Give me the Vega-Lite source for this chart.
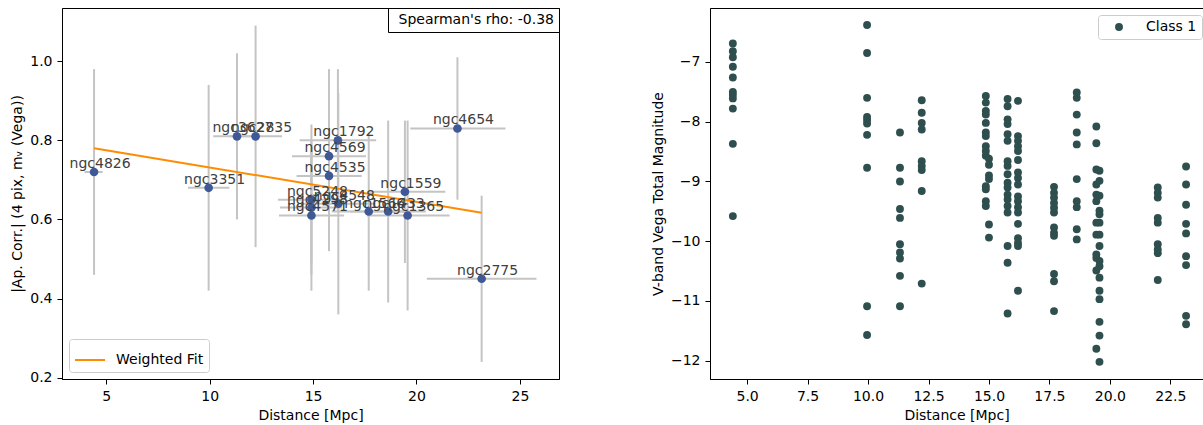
{
  "$schema": "https://vega.github.io/schema/vega-lite/v6.json",
  "padding": {"left": 10, "top": 7, "right": 0, "bottom": 0},
  "spacing": 151,
  "bounds": "flush",
  "datasets": {
    "gal": [
      {"name": "ngc4826", "dist": 4.41, "val": 0.72, "xlo": 3.95, "xhi": 4.83, "ylo": 0.46, "yhi": 0.98},
      {"name": "ngc3351", "dist": 9.95, "val": 0.68, "xlo": 8.95, "xhi": 10.95, "ylo": 0.42, "yhi": 0.94},
      {"name": "ngc3627", "dist": 11.32, "val": 0.81, "xlo": 10.17, "xhi": 12.47, "ylo": 0.60, "yhi": 1.02},
      {"name": "ngc2835", "dist": 12.22, "val": 0.81, "xlo": 10.95, "xhi": 13.5, "ylo": 0.53, "yhi": 1.09},
      {"name": "ngc5248", "dist": 14.92, "val": 0.65, "xlo": 13.3, "xhi": 16.5, "ylo": 0.46, "yhi": 0.84},
      {"name": "ngc4298", "dist": 14.92, "val": 0.63, "xlo": 13.4, "xhi": 16.4, "ylo": 0.49, "yhi": 0.77},
      {"name": "ngc4571", "dist": 14.92, "val": 0.61, "xlo": 13.35, "xhi": 16.5, "ylo": 0.42, "yhi": 0.80},
      {"name": "ngc4569", "dist": 15.77, "val": 0.76, "xlo": 13.98, "xhi": 17.56, "ylo": 0.54, "yhi": 0.98},
      {"name": "ngc4535", "dist": 15.77, "val": 0.71, "xlo": 14.2, "xhi": 17.35, "ylo": 0.52, "yhi": 0.90},
      {"name": "ngc1792", "dist": 16.2, "val": 0.80, "xlo": 14.35, "xhi": 18.05, "ylo": 0.62, "yhi": 0.98},
      {"name": "ngc4548", "dist": 16.22, "val": 0.64, "xlo": 14.5, "xhi": 17.95, "ylo": 0.36, "yhi": 0.92},
      {"name": "ngc1566", "dist": 17.69, "val": 0.62, "xlo": 15.9, "xhi": 19.5, "ylo": 0.42, "yhi": 0.82},
      {"name": "ngc1433", "dist": 18.63, "val": 0.62, "xlo": 16.8, "xhi": 20.45, "ylo": 0.39, "yhi": 0.85},
      {"name": "ngc1559", "dist": 19.44, "val": 0.67, "xlo": 17.7, "xhi": 21.4, "ylo": 0.49, "yhi": 0.85},
      {"name": "ngc1365", "dist": 19.57, "val": 0.61, "xlo": 17.6, "xhi": 21.6, "ylo": 0.37, "yhi": 0.85},
      {"name": "ngc4654", "dist": 21.98, "val": 0.83, "xlo": 19.7, "xhi": 24.3, "ylo": 0.65, "yhi": 1.01},
      {"name": "ngc2775", "dist": 23.15, "val": 0.45, "xlo": 20.5, "xhi": 25.8, "ylo": 0.24, "yhi": 0.66}
    ],
    "fit": [
      {"dist": 4.41, "val": 0.78},
      {"dist": 23.15, "val": 0.617}
    ],
    "mag": [
      {"d": 4.41, "m": -6.69, "cls": "Class 1"}, {"d": 4.41, "m": -6.82, "cls": "Class 1"}, {"d": 4.41, "m": -6.92, "cls": "Class 1"},
      {"d": 4.41, "m": -7.08, "cls": "Class 1"}, {"d": 4.41, "m": -7.26, "cls": "Class 1"}, {"d": 4.41, "m": -7.50, "cls": "Class 1"},
      {"d": 4.41, "m": -7.55, "cls": "Class 1"}, {"d": 4.41, "m": -7.61, "cls": "Class 1"}, {"d": 4.41, "m": -7.78, "cls": "Class 1"},
      {"d": 4.41, "m": -8.37, "cls": "Class 1"}, {"d": 4.41, "m": -9.58, "cls": "Class 1"},
      {"d": 9.96, "m": -6.38, "cls": "Class 1"}, {"d": 9.96, "m": -6.85, "cls": "Class 1"}, {"d": 9.96, "m": -7.60, "cls": "Class 1"},
      {"d": 9.96, "m": -7.92, "cls": "Class 1"}, {"d": 9.96, "m": -7.97, "cls": "Class 1"}, {"d": 9.96, "m": -8.03, "cls": "Class 1"},
      {"d": 9.96, "m": -8.22, "cls": "Class 1"}, {"d": 9.96, "m": -8.77, "cls": "Class 1"}, {"d": 9.96, "m": -11.09, "cls": "Class 1"},
      {"d": 9.96, "m": -11.57, "cls": "Class 1"},
      {"d": 11.32, "m": -8.18, "cls": "Class 1"}, {"d": 11.32, "m": -8.77, "cls": "Class 1"}, {"d": 11.32, "m": -9.00, "cls": "Class 1"},
      {"d": 11.32, "m": -9.46, "cls": "Class 1"}, {"d": 11.32, "m": -9.61, "cls": "Class 1"}, {"d": 11.32, "m": -10.05, "cls": "Class 1"},
      {"d": 11.32, "m": -10.19, "cls": "Class 1"}, {"d": 11.32, "m": -10.29, "cls": "Class 1"}, {"d": 11.32, "m": -10.58, "cls": "Class 1"},
      {"d": 11.32, "m": -11.09, "cls": "Class 1"},
      {"d": 12.22, "m": -7.64, "cls": "Class 1"}, {"d": 12.22, "m": -7.85, "cls": "Class 1"}, {"d": 12.22, "m": -8.02, "cls": "Class 1"},
      {"d": 12.22, "m": -8.13, "cls": "Class 1"}, {"d": 12.22, "m": -8.66, "cls": "Class 1"}, {"d": 12.22, "m": -8.74, "cls": "Class 1"},
      {"d": 12.22, "m": -8.81, "cls": "Class 1"}, {"d": 12.22, "m": -9.16, "cls": "Class 1"}, {"d": 12.22, "m": -10.71, "cls": "Class 1"},
      {"d": 14.87, "m": -7.57, "cls": "Class 1"}, {"d": 14.87, "m": -7.68, "cls": "Class 1"}, {"d": 14.87, "m": -7.82, "cls": "Class 1"},
      {"d": 14.87, "m": -7.88, "cls": "Class 1"}, {"d": 14.87, "m": -8.02, "cls": "Class 1"}, {"d": 14.87, "m": -8.18, "cls": "Class 1"},
      {"d": 14.87, "m": -8.24, "cls": "Class 1"}, {"d": 14.87, "m": -8.41, "cls": "Class 1"}, {"d": 14.87, "m": -8.49, "cls": "Class 1"},
      {"d": 14.87, "m": -8.57, "cls": "Class 1"}, {"d": 14.87, "m": -9.08, "cls": "Class 1"}, {"d": 14.87, "m": -9.13, "cls": "Class 1"},
      {"d": 14.87, "m": -9.33, "cls": "Class 1"}, {"d": 14.87, "m": -9.41, "cls": "Class 1"},
      {"d": 15.0, "m": -8.62, "cls": "Class 1"}, {"d": 15.0, "m": -8.72, "cls": "Class 1"}, {"d": 15.0, "m": -8.90, "cls": "Class 1"},
      {"d": 15.0, "m": -8.96, "cls": "Class 1"}, {"d": 15.0, "m": -9.72, "cls": "Class 1"}, {"d": 15.0, "m": -9.94, "cls": "Class 1"},
      {"d": 15.77, "m": -7.62, "cls": "Class 1"}, {"d": 15.77, "m": -7.74, "cls": "Class 1"}, {"d": 15.77, "m": -7.96, "cls": "Class 1"},
      {"d": 15.77, "m": -8.04, "cls": "Class 1"}, {"d": 15.77, "m": -8.21, "cls": "Class 1"}, {"d": 15.77, "m": -8.32, "cls": "Class 1"},
      {"d": 15.77, "m": -8.66, "cls": "Class 1"}, {"d": 15.77, "m": -8.74, "cls": "Class 1"}, {"d": 15.77, "m": -8.88, "cls": "Class 1"},
      {"d": 15.77, "m": -9.02, "cls": "Class 1"}, {"d": 15.77, "m": -9.10, "cls": "Class 1"}, {"d": 15.77, "m": -9.22, "cls": "Class 1"},
      {"d": 15.77, "m": -9.30, "cls": "Class 1"}, {"d": 15.77, "m": -9.41, "cls": "Class 1"}, {"d": 15.77, "m": -9.52, "cls": "Class 1"},
      {"d": 15.77, "m": -10.08, "cls": "Class 1"}, {"d": 15.77, "m": -10.36, "cls": "Class 1"}, {"d": 15.77, "m": -11.21, "cls": "Class 1"},
      {"d": 16.2, "m": -7.65, "cls": "Class 1"}, {"d": 16.2, "m": -8.24, "cls": "Class 1"}, {"d": 16.2, "m": -8.32, "cls": "Class 1"},
      {"d": 16.2, "m": -8.41, "cls": "Class 1"}, {"d": 16.2, "m": -8.49, "cls": "Class 1"}, {"d": 16.2, "m": -8.64, "cls": "Class 1"},
      {"d": 16.2, "m": -8.85, "cls": "Class 1"}, {"d": 16.2, "m": -8.94, "cls": "Class 1"}, {"d": 16.2, "m": -9.05, "cls": "Class 1"},
      {"d": 16.2, "m": -9.25, "cls": "Class 1"}, {"d": 16.2, "m": -9.33, "cls": "Class 1"}, {"d": 16.2, "m": -9.43, "cls": "Class 1"},
      {"d": 16.2, "m": -9.52, "cls": "Class 1"}, {"d": 16.2, "m": -9.71, "cls": "Class 1"}, {"d": 16.2, "m": -9.95, "cls": "Class 1"},
      {"d": 16.2, "m": -10.03, "cls": "Class 1"}, {"d": 16.2, "m": -10.08, "cls": "Class 1"}, {"d": 16.2, "m": -10.83, "cls": "Class 1"},
      {"d": 17.69, "m": -9.09, "cls": "Class 1"}, {"d": 17.69, "m": -9.19, "cls": "Class 1"}, {"d": 17.69, "m": -9.27, "cls": "Class 1"},
      {"d": 17.69, "m": -9.36, "cls": "Class 1"}, {"d": 17.69, "m": -9.44, "cls": "Class 1"}, {"d": 17.69, "m": -9.52, "cls": "Class 1"},
      {"d": 17.69, "m": -9.77, "cls": "Class 1"}, {"d": 17.69, "m": -9.86, "cls": "Class 1"}, {"d": 17.69, "m": -9.91, "cls": "Class 1"},
      {"d": 17.69, "m": -10.55, "cls": "Class 1"}, {"d": 17.69, "m": -10.67, "cls": "Class 1"}, {"d": 17.69, "m": -11.17, "cls": "Class 1"},
      {"d": 18.63, "m": -7.51, "cls": "Class 1"}, {"d": 18.63, "m": -7.60, "cls": "Class 1"}, {"d": 18.63, "m": -7.88, "cls": "Class 1"},
      {"d": 18.63, "m": -8.18, "cls": "Class 1"}, {"d": 18.63, "m": -8.38, "cls": "Class 1"}, {"d": 18.63, "m": -8.96, "cls": "Class 1"},
      {"d": 18.63, "m": -9.33, "cls": "Class 1"}, {"d": 18.63, "m": -9.43, "cls": "Class 1"}, {"d": 18.63, "m": -9.80, "cls": "Class 1"},
      {"d": 18.63, "m": -9.97, "cls": "Class 1"},
      {"d": 19.44, "m": -8.08, "cls": "Class 1"}, {"d": 19.44, "m": -8.36, "cls": "Class 1"}, {"d": 19.44, "m": -8.80, "cls": "Class 1"},
      {"d": 19.44, "m": -9.05, "cls": "Class 1"}, {"d": 19.44, "m": -9.22, "cls": "Class 1"}, {"d": 19.44, "m": -9.33, "cls": "Class 1"},
      {"d": 19.44, "m": -9.69, "cls": "Class 1"}, {"d": 19.44, "m": -9.89, "cls": "Class 1"}, {"d": 19.44, "m": -10.22, "cls": "Class 1"},
      {"d": 19.44, "m": -10.28, "cls": "Class 1"}, {"d": 19.44, "m": -10.49, "cls": "Class 1"}, {"d": 19.44, "m": -11.80, "cls": "Class 1"},
      {"d": 19.57, "m": -8.82, "cls": "Class 1"}, {"d": 19.57, "m": -8.99, "cls": "Class 1"}, {"d": 19.57, "m": -9.24, "cls": "Class 1"},
      {"d": 19.57, "m": -9.49, "cls": "Class 1"}, {"d": 19.57, "m": -9.55, "cls": "Class 1"}, {"d": 19.57, "m": -9.69, "cls": "Class 1"},
      {"d": 19.57, "m": -9.89, "cls": "Class 1"}, {"d": 19.57, "m": -10.08, "cls": "Class 1"}, {"d": 19.57, "m": -10.33, "cls": "Class 1"},
      {"d": 19.57, "m": -10.42, "cls": "Class 1"}, {"d": 19.57, "m": -10.61, "cls": "Class 1"}, {"d": 19.57, "m": -10.83, "cls": "Class 1"},
      {"d": 19.57, "m": -10.97, "cls": "Class 1"}, {"d": 19.57, "m": -11.35, "cls": "Class 1"}, {"d": 19.57, "m": -11.58, "cls": "Class 1"},
      {"d": 19.57, "m": -12.02, "cls": "Class 1"},
      {"d": 21.98, "m": -9.10, "cls": "Class 1"}, {"d": 21.98, "m": -9.19, "cls": "Class 1"}, {"d": 21.98, "m": -9.27, "cls": "Class 1"},
      {"d": 21.98, "m": -9.61, "cls": "Class 1"}, {"d": 21.98, "m": -9.69, "cls": "Class 1"}, {"d": 21.98, "m": -10.05, "cls": "Class 1"},
      {"d": 21.98, "m": -10.14, "cls": "Class 1"}, {"d": 21.98, "m": -10.20, "cls": "Class 1"}, {"d": 21.98, "m": -10.65, "cls": "Class 1"},
      {"d": 23.15, "m": -8.75, "cls": "Class 1"}, {"d": 23.15, "m": -9.05, "cls": "Class 1"}, {"d": 23.15, "m": -9.39, "cls": "Class 1"},
      {"d": 23.15, "m": -9.71, "cls": "Class 1"}, {"d": 23.15, "m": -9.87, "cls": "Class 1"}, {"d": 23.15, "m": -10.25, "cls": "Class 1"},
      {"d": 23.15, "m": -10.40, "cls": "Class 1"}, {"d": 23.15, "m": -11.25, "cls": "Class 1"}, {"d": 23.15, "m": -11.39, "cls": "Class 1"}
    ]
  },
  "hconcat": [
    {
      "width": 497,
      "height": 371,
      "layer": [
        {
          "data": {"name": "gal"},
          "mark": {"type": "rule", "color": "#c4c4c4", "strokeWidth": 2},
          "encoding": {
            "x": {"field": "dist", "type": "quantitative", "title": "Distance [Mpc]",
                  "scale": {"domain": [2.86, 26.89], "nice": false, "zero": false},
                  "axis": {"values": [5, 10, 15, 20, 25], "format": "d"}},
            "y": {"field": "ylo", "type": "quantitative", "title": "|Ap. Corr.| (4 pix, mᵥ (Vega))",
                  "scale": {"domain": [0.1967, 1.1345], "nice": false, "zero": false},
                  "axis": {"values": [0.2, 0.4, 0.6, 0.8, 1.0], "format": ".1f"}},
            "y2": {"field": "yhi"}
          }
        },
        {
          "data": {"name": "gal"},
          "mark": {"type": "rule", "color": "#c4c4c4", "strokeWidth": 2},
          "encoding": {
            "x": {"field": "xlo", "type": "quantitative", "title": "Distance [Mpc]"},
            "x2": {"field": "xhi"},
            "y": {"field": "val", "type": "quantitative", "title": "|Ap. Corr.| (4 pix, mᵥ (Vega))"}
          }
        },
        {
          "data": {"name": "gal"},
          "mark": {"type": "point", "filled": true, "color": "#3f5997", "opacity": 1, "size": 75},
          "encoding": {
            "x": {"field": "dist", "type": "quantitative", "title": "Distance [Mpc]"},
            "y": {"field": "val", "type": "quantitative", "title": "|Ap. Corr.| (4 pix, mᵥ (Vega))"},
            "shape": {"datum": "Spearman's rho: -0.38",
                      "scale": {"range": ["circle"]},
                      "legend": {"title": null, "orient": "top-right", "offset": 0, "symbolSize": 0,
                                 "symbolOpacity": 0, "symbolStrokeWidth": 0, "labelOffset": -8.5,
                                 "labelLimit": 400, "labelFontSize": 14, "labelColor": "black",
                                 "padding": 5, "strokeColor": "black", "fillColor": "white",
                                 "cornerRadius": 0}}
          }
        },
        {
          "data": {"name": "fit"},
          "mark": {"type": "line", "strokeWidth": 2},
          "encoding": {
            "x": {"field": "dist", "type": "quantitative", "title": "Distance [Mpc]"},
            "y": {"field": "val", "type": "quantitative", "title": "|Ap. Corr.| (4 pix, mᵥ (Vega))"},
            "color": {"datum": "Weighted Fit",
                      "scale": {"range": ["#ff8c00"]},
                      "legend": {"title": null, "orient": "bottom-left", "offset": 7,
                                 "symbolType": "stroke", "symbolSize": 900, "symbolStrokeWidth": 2,
                                 "labelOffset": 10, "labelFontSize": 14, "labelColor": "black",
                                 "padding": 5, "strokeColor": "#cccccc", "fillColor": "white",
                                 "cornerRadius": 3}}
          }
        },
        {
          "data": {"name": "gal"},
          "mark": {"type": "text", "dx": 6, "dy": -4, "align": "center", "baseline": "alphabetic",
                   "fontSize": 14, "font": "DejaVu Sans", "color": "#404040"},
          "encoding": {
            "x": {"field": "dist", "type": "quantitative", "title": "Distance [Mpc]"},
            "y": {"field": "val", "type": "quantitative", "title": "|Ap. Corr.| (4 pix, mᵥ (Vega))"},
            "text": {"field": "name"}
          }
        }
      ],
      "resolve": {"scale": {"color": "independent", "shape": "independent"}}
    },
    {
      "width": 493,
      "height": 371,
      "data": {"name": "mag"},
      "mark": {"type": "circle", "opacity": 1, "size": 62},
      "encoding": {
        "x": {"field": "d", "type": "quantitative", "title": "Distance [Mpc]",
              "scale": {"domain": [3.465, 23.85], "nice": false, "zero": false},
              "axis": {"values": [5, 7.5, 10, 12.5, 15, 17.5, 20, 22.5], "format": ".1f"}},
        "y": {"field": "m", "type": "quantitative", "title": "V-band Vega Total Magnitude",
              "scale": {"domain": [-12.307, -6.096], "nice": false, "zero": false},
              "axis": {"values": [-12, -11, -10, -9, -8, -7], "format": "d"}},
        "color": {"field": "cls", "type": "nominal",
                  "scale": {"range": ["#2f4f4f"]},
                  "legend": {"title": null, "orient": "none", "legendX": 388, "legendY": 7,
                             "symbolType": "circle", "symbolSize": 62, "symbolOffset": 9,
                             "labelOffset": 20, "labelFontSize": 14, "labelColor": "black",
                             "padding": 5, "strokeColor": "#cccccc", "fillColor": "white",
                             "cornerRadius": 3}}
      }
    }
  ],
  "resolve": {"scale": {"color": "independent", "x": "independent", "y": "independent"}, "legend": {"color": "independent"}},
  "config": {
    "font": "DejaVu Sans",
    "view": {"stroke": "black", "strokeWidth": 1},
    "axis": {"grid": false, "domainColor": "black", "tickColor": "black", "labelColor": "black",
             "titleColor": "black", "labelFont": "DejaVu Sans", "titleFont": "DejaVu Sans",
             "labelFontSize": 14, "titleFontSize": 14, "titleFontWeight": "normal",
             "tickSize": 5, "labelPadding": 5, "titlePadding": 5, "domainWidth": 1, "tickWidth": 1},
    "legend": {"labelFont": "DejaVu Sans"}
  }
}
